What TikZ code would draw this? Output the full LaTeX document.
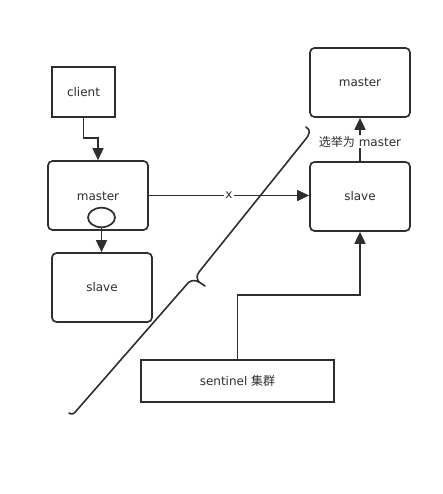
\documentclass[tikz,border=0pt]{standalone}
\usepackage{fontspec}
\setmainfont{DejaVu Sans}
\newfontfamily\cjk{Noto Sans CJK SC}
\usetikzlibrary{arrows.meta,shapes.geometric}
\definecolor{linec}{HTML}{2E2E2E}
\begin{document}
\begin{tikzpicture}[x=1pt,y=-1pt,
  font=\fontsize{12pt}{14pt}\selectfont,
  every node/.style={text=linec},
  sqbox/.style={draw=linec,line width=1.7pt,inner sep=0pt,fill=white},
  rbox/.style={sqbox,rounded corners=4.5pt,minimum width=100pt,minimum height=69pt},
  arr/.style={draw=linec,line width=1.7pt,-{Triangle[length=12pt,width=11pt]}},
  lbl/.style={fill=white,inner sep=1pt}]
\useasboundingbox (0,0) rectangle (442,494);
% nodes
\node[sqbox,minimum width=63pt,minimum height=50pt] (client) at (83.5,92) {client};
\node[rbox] (masterL) at (98,195.5) {};
\node at (98,196) {master};
\node[draw=linec,line width=1.7pt,ellipse,minimum width=27pt,minimum height=19.5pt,inner sep=0pt,fill=white] (ell) at (101.5,217.5) {};
\node[rbox] (slaveL) at (102,287.5) {slave};
\node[rbox] (masterR) at (360,82.5) {master};
\node[rbox] (slaveR) at (360,196.5) {slave};
\node[sqbox,minimum width=193pt,minimum height=42pt] (sentinel) at (237.5,381) {sentinel {\cjk 集群}};
% coordinates for bends
\coordinate (b1) at (98,138);
\coordinate (b2) at (360,295);
% connectors
\draw[arr] (client.south) |- (b1) -- (masterL.north);
\draw[arr] (ell.south) -- (ell.south |- slaveL.north);
\draw[arr] (masterL.east) -- (masterL.east -| slaveR.west) node[lbl,midway] {x};
\draw[arr] (slaveR.north) -- (masterR.south) node[lbl,pos=0.45] {{\cjk 选举为} master};
\draw[arr] (sentinel.north) |- (b2) -- (slaveR.south);
% brace
\draw[linec,line width=1.6pt,line join=round,line cap=round]
  (69,413) .. controls (72,415) and (74,414) .. (77,410) -- (188,283)
  .. controls (191,280) and (195,280) .. (199,282) -- (205,286);
\draw[linec,line width=1.6pt,line join=round,line cap=round]
  (199,282) .. controls (197,279) and (196,276) .. (199,272) -- (305,140)
  .. controls (310,134) and (311,130) .. (306,127);
\end{tikzpicture}
\end{document}
